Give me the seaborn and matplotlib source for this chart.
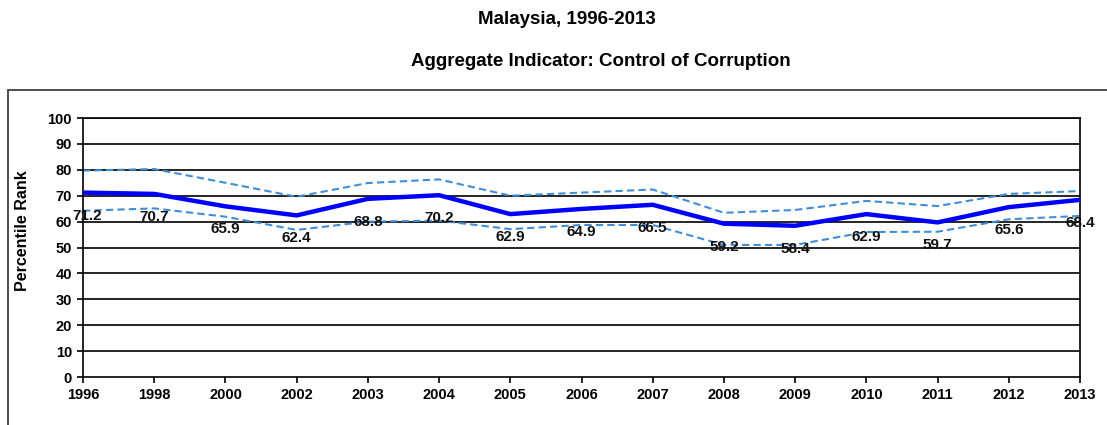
import seaborn as sns
import matplotlib.pyplot as plt
import pandas as pd
from matplotlib.patches import Rectangle

# Valori
years = ["1996", "1998", "2000", "2002", "2003", "2004", "2005", "2006",
         "2007", "2008", "2009", "2010", "2011", "2012", "2013"]
rank = [71.2, 70.7, 65.9, 62.4, 68.8, 70.2, 62.9, 64.9, 66.5, 59.2, 58.4, 62.9, 59.7, 65.6, 68.4]
upper = [79.7, 80.3, 75.0, 69.6, 74.9, 76.3, 70.0, 71.2, 72.4, 63.4, 64.5, 68.0, 66.0, 70.7, 71.8]
lower = [64.2, 65.1, 61.9, 56.8, 60.0, 60.4, 57.1, 58.7, 58.7, 51.0, 51.0, 56.0, 56.1, 60.9, 62.2]

df = pd.DataFrame({"year": years, "rank": rank, "upper": upper, "lower": lower})
df["pos"] = range(len(years))

sns.set_style("white")
plt.rcParams["font.family"] = ["Liberation Sans", "DejaVu Sans"]
plt.rcParams["font.weight"] = "bold"
plt.rcParams["text.color"] = "black"
plt.rcParams["axes.labelcolor"] = "black"
plt.rcParams["xtick.color"] = "black"
plt.rcParams["ytick.color"] = "black"

fig = plt.figure(figsize=(11.07, 4.25), dpi=100)
ax = fig.add_axes([0.075, 0.1129, 0.9006, 0.6094])

# Linee orizzontali della griglia
for v in range(10, 101, 10):
    ax.axhline(v, color="black", lw=1.2, zorder=1)

dash_col = "#3d8fdc"
sns.lineplot(data=df, x="pos", y="upper", ax=ax, color=dash_col, lw=1.5,
             linestyle=(0, (3.5, 2)), zorder=2)
sns.lineplot(data=df, x="pos", y="lower", ax=ax, color=dash_col, lw=1.5,
             linestyle=(0, (3.5, 2)), zorder=2)
sns.lineplot(data=df, x="pos", y="rank", ax=ax, color="#0000ff", lw=3.2, zorder=3)

for p, v in zip(df["pos"], df["rank"]):
    dx = 3 if p == 0 else 0  # primo valore spostato un po' a destra
    ax.annotate(f"{v}", (p, v), xytext=(dx, -16.5), textcoords="offset points",
                ha="center", va="center", fontsize=11, fontweight="bold",
                color="#111111", zorder=4)

ax.set_xlim(0, len(years) - 1)
ax.set_ylim(0, 100)
ax.set_xticks(df["pos"])
ax.set_xticklabels(years)
ax.set_yticks(range(0, 101, 10))
ax.tick_params(axis="both", direction="out", length=4, width=1.2, color="black",
               labelsize=10.5, pad=4, left=True, bottom=True)
for lbl in ax.get_xticklabels() + ax.get_yticklabels():
    lbl.set_fontweight("bold")

for s in ax.spines.values():
    s.set_color("black")
    s.set_linewidth(1.2)

ax.set_xlabel("")
ax.set_ylabel("Percentile Rank", fontsize=11.5, fontweight="bold")
ax.yaxis.set_label_coords(-0.053, 0.567)

# Titoli
fig.text(0.512, 0.953, "Malaysia, 1996-2013", ha="center", va="center",
         fontsize=13.5, fontweight="bold")
fig.text(0.543, 0.856, "Aggregate Indicator: Control of Corruption", ha="center",
         va="center", fontsize=13.5, fontweight="bold")

# Cornice esterna
fig.patches.append(Rectangle((8 / 1107, -0.2), 1.2, 1.2 - 90 / 425,
                             transform=fig.transFigure, fill=False,
                             edgecolor="#404040", lw=1.3))

fig.savefig("out.png", dpi=100)
